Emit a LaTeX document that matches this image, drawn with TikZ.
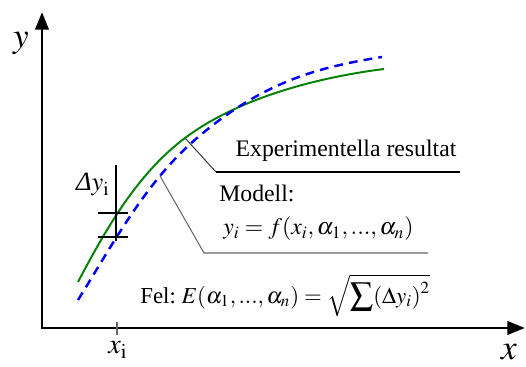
\documentclass[tikz,border=0pt]{standalone}
\usepackage{mathptmx}
\usepackage{fontspec}
\setmainfont{Liberation Serif}
\usetikzlibrary{arrows.meta}
\definecolor{fitgreen}{RGB}{0,128,0}

\begin{document}
\begin{tikzpicture}[x=0.02cm,y=-0.02cm,
  axis/.style={line width=1.7pt,{Triangle[length=10pt,width=7.5pt]}-{Triangle[length=10pt,width=7.5pt]}},
  leader/.style={line width=0.6pt},
  bar/.style={line width=1.5pt},
  every node/.style={inner sep=0pt,font=\fontsize{13.5}{16}\selectfont}]
\useasboundingbox (0,0) rectangle (526,367);
% axes
\coordinate (O) at (42,328);
\coordinate (ytop) at (42,12);
\coordinate (xend) at (525,328);
\draw[axis] (ytop) -- (O) -- (xend);
\node[font=\fontsize{20}{20}\selectfont] (ylab) at (21,43) {$y$};
\node[font=\fontsize{20}{20}\selectfont] (xlab) at (509,352) {$x$};
% experiment (green) and model (blue)
\coordinate (gA) at (185,138);
\draw[fitgreen,line width=1.1pt] (78,282) .. controls (106,229) and (137,174) .. (gA)
  .. controls (237,99) and (314.7,77.75) .. (384,69);
\draw[blue,line width=1.4pt,dash pattern=on 5pt off 3.5pt] (78,300) .. controls (113.5,243) and (146,181.5) .. (197,138)
  .. controls (265.4,79.5) and (322.8,66.6) .. (382,57);
% leaders
\coordinate (eknee) at (216,172);
\coordinate (eend) at (460,172);
\coordinate (bA) at (160,176);
\coordinate (mknee) at (204,253);
\coordinate (mend) at (428,253);
\draw[leader,black!75] (gA) -- (eknee);
\draw[leader] (eknee) -- (eend);
\draw[leader,black!60] (bA) -- (mknee) -- (mend);
\node[anchor=base] (exper) at (346,157) {Experimentella resultat};
\node[anchor=base west] (modell) at (219,202) {Modell:};
\node[anchor=base west] (modeq) at (223,235) {$y_i = f(x_i,\alpha_1,...,\alpha_n)$};
\node[anchor=base west,font=\fontsize{13}{16}\selectfont] (fel) at (140,303) {Fel:\ $E(\alpha_1,...,\alpha_n)=\sqrt{\displaystyle\sum(\Delta y_i)^2}$};
% Delta y_i
\coordinate (dtop) at (116,165);
\coordinate (dbot) at (116,241);
\draw[leader] (dtop) -- (dbot);
\draw[bar] (98,213) -- (128,213);
\draw[bar] (98,237) -- (128,237);
\node[anchor=base east,font=\fontsize{15}{16}\selectfont] (dy) at (110,191) {{\itshape Δ}$y_{\mathrm{i}}$};
% x_i
\coordinate (tk1) at (117,322);
\coordinate (tk2) at (117,335);
\draw[leader,black!60] (tk1) -- (tk2);
\node[font=\fontsize{16}{16}\selectfont] (xi) at (118,350) {$x_{\mathrm{i}}$};
\end{tikzpicture}
\end{document}
